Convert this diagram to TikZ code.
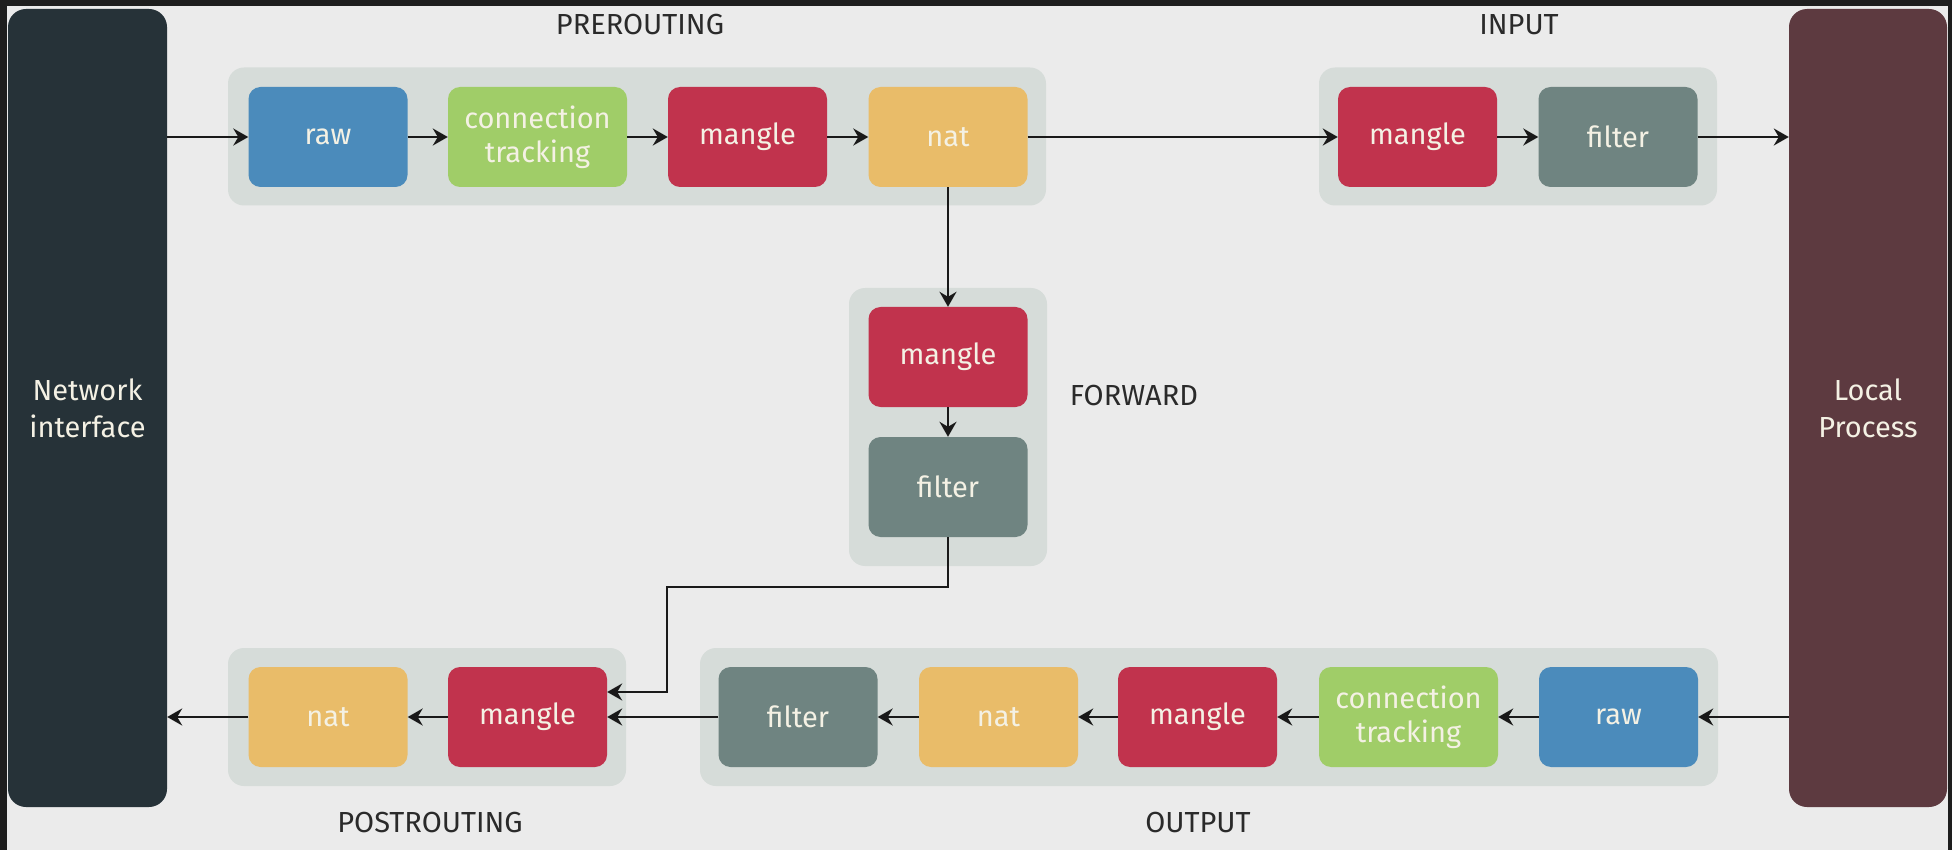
\documentclass[tikz,border=0pt]{standalone}
\usepackage{fontspec}
\setmainfont{Fira Sans}
\usetikzlibrary{arrows.meta}
\definecolor{bgc}{HTML}{EBEBEB}
\definecolor{framec}{HTML}{1E1E1E}
\definecolor{groupc}{HTML}{D6DCD9}
\definecolor{nic}{HTML}{263238}
\definecolor{lpc}{HTML}{5D3A40}
\definecolor{rawc}{HTML}{4B8BBB}
\definecolor{ctc}{HTML}{A0CD68}
\definecolor{manglec}{HTML}{C1334D}
\definecolor{natc}{HTML}{E9BC69}
\definecolor{filterc}{HTML}{6F8481}
\definecolor{txtc}{HTML}{F4F1E4}
\definecolor{labc}{HTML}{2A2A2A}
\tikzset{
  tbl/.style={rounded corners=12pt, minimum width=159pt, minimum height=100pt, inner sep=0pt,
    text=txtc, align=center, font=\fontsize{29}{34}\selectfont},
  tblwide/.style={tbl, minimum width=179pt},
  grp/.style={fill=groupc, rounded corners=16pt, inner sep=0pt},
  side/.style={rounded corners=18pt, minimum width=159pt, minimum height=798pt, inner sep=0pt,
    text=txtc, align=center, font=\fontsize{29}{37}\selectfont},
  chainlabel/.style={text=labc, font=\fontsize{29}{34}\selectfont},
  arr/.style={draw=black!90, line width=2.2pt, -{Stealth[length=15pt, width=17pt, inset=5pt]}}
}
\begin{document}
\begin{tikzpicture}[x=1pt, y=-1pt]
\useasboundingbox (0,0) rectangle (1952,850);
\fill[framec] (0,0) rectangle (1952,850);
\fill[bgc] (7,6) rectangle (1948,850);

% side blocks
\node[side, fill=nic] (ni) at (87.5,408) {Network\\interface};
\node[side, fill=lpc, minimum width=158pt] (lp) at (1868,408) {Local\\Process};

% groups
\node[grp, minimum width=818pt, minimum height=138pt] (gpre) at (637,136.5) {};
\node[grp, minimum width=398pt, minimum height=138pt] (gin) at (1518,136.5) {};
\node[grp, minimum width=198pt, minimum height=278pt] (gfw) at (948,427) {};
\node[grp, minimum width=398pt, minimum height=138pt] (gpost) at (427,717) {};
\node[grp, minimum width=1018pt, minimum height=138pt] (gout) at (1209,717) {};

% PREROUTING
\node[tbl, fill=rawc] (prraw) at (328,137) {raw};
\node[tblwide, fill=ctc] (prct) at (537.5,137) {connection\\tracking};
\node[tbl, fill=manglec] (prmangle) at (747.5,137) {mangle};
\node[tbl, fill=natc] (prnat) at (948,137) {nat};

% INPUT
\node[tbl, fill=manglec] (inmangle) at (1417.5,137) {mangle};
\node[tbl, fill=filterc] (infilter) at (1618,137) {filter};

% FORWARD
\node[tbl, fill=manglec] (fwmangle) at (948,357) {mangle};
\node[tbl, fill=filterc] (fwfilter) at (948,487) {filter};

% POSTROUTING
\node[tbl, fill=natc] (ponat) at (328,717) {nat};
\node[tbl, fill=manglec] (pomangle) at (527.5,717) {mangle};

% OUTPUT
\node[tbl, fill=filterc] (outfilter) at (798,717) {filter};
\node[tbl, fill=natc] (outnat) at (998.5,717) {nat};
\node[tbl, fill=manglec] (outmangle) at (1197.5,717) {mangle};
\node[tblwide, fill=ctc] (outct) at (1408.5,717) {connection\\tracking};
\node[tbl, fill=rawc] (outraw) at (1618.5,717) {raw};

% labels
\node[chainlabel] (lpre) at (640,25) {PREROUTING};
\node[chainlabel] (lin) at (1519,25) {INPUT};
\node[chainlabel] (lfw) at (1134,396) {FORWARD};
\node[chainlabel] (lpost) at (430,823) {POSTROUTING};
\node[chainlabel] (lout) at (1198,823) {OUTPUT};

% connectors: prerouting / input
\draw[arr] (prraw.west -| ni.east) -- (prraw.west);
\draw[arr] (prraw.east) -- (prct.west);
\draw[arr] (prct.east) -- (prmangle.west);
\draw[arr] (prmangle.east) -- (prnat.west);
\draw[arr] (prnat.east) -- (inmangle.west);
\draw[arr] (inmangle.east) -- (infilter.west);
\draw[arr] (infilter.east) -- (infilter.east -| lp.west);

% forward
\draw[arr] (prnat.south) -- (fwmangle.north);
\draw[arr] (fwmangle.south) -- (fwfilter.north);
\coordinate (fwbend) at (667,587);
\draw[arr] (fwfilter.south) |- (fwbend) |- ([yshift=25pt]pomangle.east);

% output / postrouting
\draw[arr] (outraw.east -| lp.west) -- (outraw.east);
\draw[arr] (outraw.west) -- (outct.east);
\draw[arr] (outct.west) -- (outmangle.east);
\draw[arr] (outmangle.west) -- (outnat.east);
\draw[arr] (outnat.west) -- (outfilter.east);
\draw[arr] (outfilter.west) -- (pomangle.east);
\draw[arr] (pomangle.west) -- (ponat.east);
\draw[arr] (ponat.west) -- (ponat.west -| ni.east);
\end{tikzpicture}
\end{document}
